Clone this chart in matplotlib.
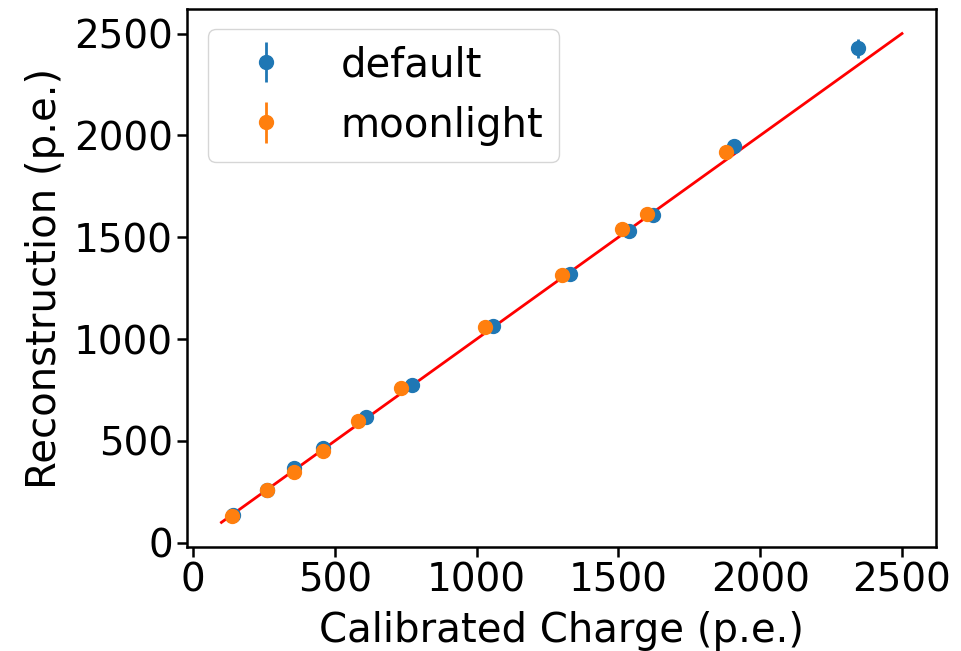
import numpy as np
import matplotlib.pyplot as plt

# calibrated charge vs reconstructed charge (p.e.)
default_x = [140, 262, 355, 457, 609, 771, 1057, 1329, 1538, 1623, 1908, 2345]
default_y = [135, 259, 367, 465, 616, 773, 1062, 1321, 1531, 1610, 1947, 2427]
default_err = [15, 15, 18, 18, 20, 20, 22, 25, 25, 25, 30, 45]

moon_x = [139, 262, 355, 457, 581, 733, 1029, 1301, 1513, 1601, 1880]
moon_y = [132, 259, 347, 450, 597, 758, 1057, 1316, 1541, 1614, 1918]
moon_err = [15, 15, 18, 18, 20, 20, 22, 25, 25, 25, 30]

line_x = np.array([100, 2500])

plt.rcParams['font.size'] = 29

fig = plt.figure(figsize=(9.61, 6.51), dpi=100)
ax = fig.add_axes([0.195, 0.160, 0.779, 0.826])

ax.errorbar(default_x, default_y, yerr=default_err, fmt='o', markersize=10,
            elinewidth=2, label='default')
ax.errorbar(moon_x, moon_y, yerr=moon_err, fmt='o', markersize=10,
            elinewidth=2, label='moonlight')
ax.plot(line_x, line_x, color='red', linewidth=2)

ax.set_xticks([0, 500, 1000, 1500, 2000, 2500])
ax.set_yticks([0, 500, 1000, 1500, 2000, 2500])
ax.tick_params(width=1.8, length=7, labelsize=28)
for s in ax.spines.values():
    s.set_linewidth(1.8)

ax.set_xlabel('Calibrated Charge (p.e.)', labelpad=8)
ax.set_ylabel('Reconstruction (p.e.)', labelpad=6)
ax.legend(loc='upper left', handlelength=2.1, handletextpad=0.8)

plt.savefig('out.png', dpi=100)
